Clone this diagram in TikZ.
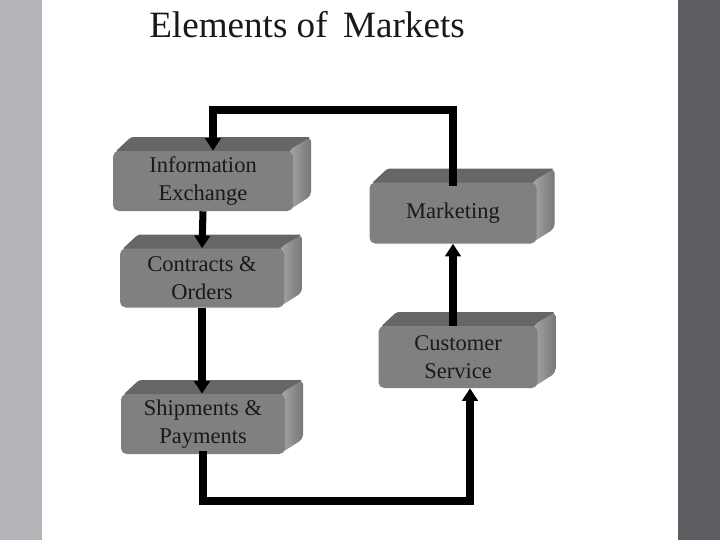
\documentclass[tikz,border=0pt]{standalone}
\usepackage{fontspec}
\setmainfont{Liberation Serif}
\usepackage{tikz}
\usetikzlibrary{arrows.meta, calc}
\definecolor{leftband}{RGB}{181,180,185}
\definecolor{rightband}{RGB}{94,93,98}
\definecolor{frontgray}{RGB}{128,128,128}
\definecolor{topgray}{RGB}{102,102,102}
\definecolor{sidelight}{RGB}{165,165,165}
\definecolor{sidedark}{RGB}{120,120,120}
\definecolor{inkgray}{RGB}{25,25,25}

\begin{document}
\begin{tikzpicture}[x=0.025cm, y=-0.025cm,
    slab/.style={fill=frontgray, rounded corners=4pt, align=center, inner sep=2pt,
        text=inkgray, font=\fontsize{16}{19.8}\selectfont},
    topface/.style={fill=topgray, rounded corners=2pt},
    sideface/.style={left color=sidelight, right color=sidedark, rounded corners=3pt},
    link/.style={line width=5pt, black, -{Triangle[length=9pt, width=11pt]}},
    flow/.style={line width=5pt, black, line cap=rect},
]
  \useasboundingbox (0,0) rectangle (720,540);
  \fill[leftband] (0,0) rectangle (42,540);
  \fill[white] (42,0) rectangle (678,540);
  \fill[rightband] (678,0) rectangle (720,540);

  \node[anchor=base west, inner sep=0, text=inkgray, font=\fontsize{26.4}{30}\selectfont] (title) at (149,37) {Elements of\, Markets};

  \foreach \n/\cx/\cy/\w/\h/\txt in {
      info/203/180/180/60/{Information\\Exchange},
      contracts/202/277/164/59/{Contracts \&\\Orders},
      shipments/203/423/164/60/{Shipments \&\\Payments},
      marketing/453/212/167/61/{Marketing},
      customer/458/356/159/62/{Customer\\Service}} {
    \fill[topface] (\cx-\w/2+2,\cy-\h/2+2) -- (\cx-\w/2+18,\cy-\h/2-13) -- (\cx+\w/2+18,\cy-\h/2-13) -- (\cx+\w/2-2,\cy-\h/2+2) -- cycle;
    \shade[sideface] (\cx+\w/2-4,\cy-\h/2) -- (\cx+\w/2+18,\cy-\h/2-13) -- (\cx+\w/2+18,\cy+\h/2-14) -- (\cx+\w/2-4,\cy+\h/2) -- cycle;
    \node[slab, minimum width={\w*0.025cm}, minimum height={\h*0.025cm}] (\n) at (\cx,\cy+1) {\txt};
  }

  \coordinate (topturn) at (213,110);
  \coordinate (botturn) at (470,501);

  \draw[flow] (marketing.north) |- (topturn);
  \draw[link] (topturn) -- (topturn |- info.north);
  \draw[link] (info.south) -- (contracts.north);
  \draw[link] (contracts.south) -- (contracts.south |- shipments.north);
  \draw[flow] (shipments.south) |- (botturn);
  \draw[link] (botturn) -- (botturn |- customer.south);
  \draw[link] (customer.north -| marketing.north) -- (marketing.south);
\end{tikzpicture}
\end{document}
